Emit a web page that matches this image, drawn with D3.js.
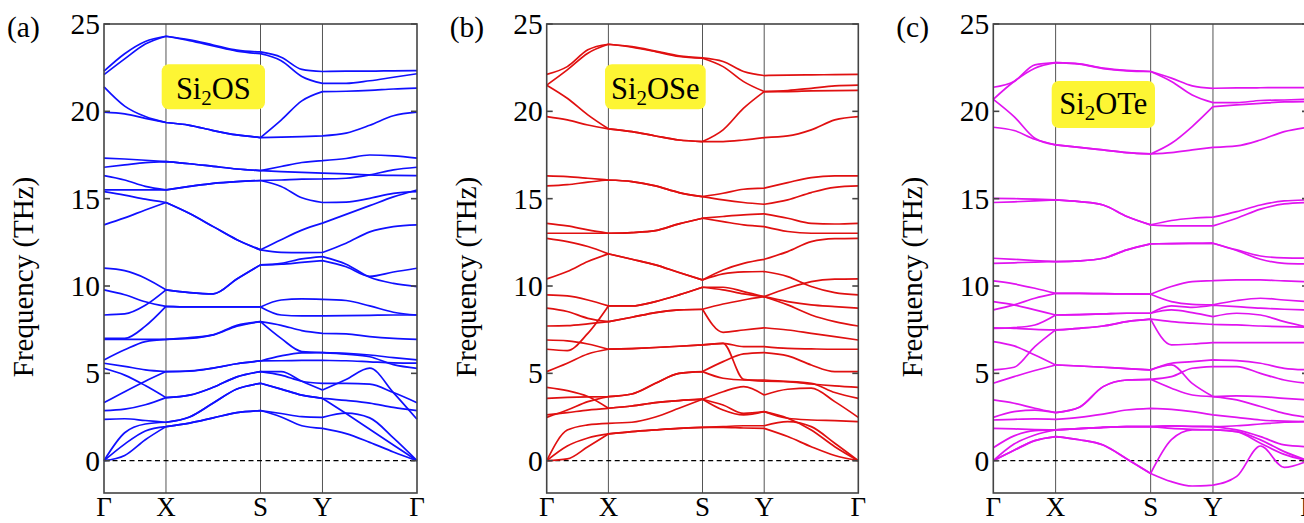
<!DOCTYPE html>
<html>
<head>
<meta charset="utf-8">
<script src="https://cdn.jsdelivr.net/npm/d3@7"></script>
<style>
  body { margin: 0; background: #fff; }
</style>
</head>
<body>
<svg id="chart" width="1304" height="523" font-family="'Liberation Serif', 'Times New Roman', 'DejaVu Serif', serif"></svg>
<script>
// High-symmetry path Γ–X–S–Y–Γ
const kLabels = ["Γ", "X", "S", "Y", "Γ"];
// cumulative path length (normalised) at Γ, X, S, Y, Γ
const kNodes = [0, 0.198, 0.5, 0.698, 1];
// sampling points of every band, in segment units (0=Γ, 1=X, 2=S, 3=Y, 4=Γ)
const kGrid = [0, 1/3, 2/3, 1, 1.25, 1.5, 1.75, 2, 2 + 1/3, 2 + 2/3, 3, 3.25, 3.5, 3.75, 4];
const freqTicks = [0, 5, 10, 15, 20, 25];
const freqDomain = [-1.85, 25];

// Phonon branches of Si2OS (THz) sampled on kGrid
const bandsSi2OS = [
  [0, 0.3, 1.2, 1.95, 2.15, 2.45, 2.75, 2.87, 2.5, 2.0, 1.85, 1.55, 1.05, 0.5, 0],
  [0, 0.95, 1.7, 1.95, 2.15, 2.45, 2.75, 2.87, 2.7, 2.52, 2.48, 2.72, 2.45, 1.3, 0],
  [0, 1.6, 2.1, 2.2, 2.5, 3.3, 4.1, 4.43, 4.1, 3.75, 3.57, 2.7, 1.8, 0.9, 0],
  [2.37, 2.4, 2.3, 2.2, 2.5, 3.3, 4.1, 4.43, 4.1, 3.75, 3.57, 3.45, 3.3, 3.05, 2.87],
  [2.87, 2.95, 3.2, 3.61, 3.75, 4.2, 4.8, 5.1, 4.9, 4.55, 4.43, 4.43, 4.38, 3.9, 3.32],
  [5.29, 4.9, 4.3, 3.61, 3.75, 4.2, 4.8, 5.1, 5.1, 4.55, 4.05, 4.65, 5.3, 3.9, 2.37],
  [3.32, 3.95, 4.55, 5.1, 5.14, 5.3, 5.55, 5.71, 6.0, 6.17, 6.19, 6.15, 6.05, 5.9, 5.77],
  [5.58, 5.4, 5.2, 5.1, 5.12, 5.3, 5.55, 5.71, 5.72, 5.74, 5.75, 5.72, 5.66, 5.6, 5.58],
  [5.77, 6.35, 6.82, 6.95, 7.05, 7.2, 7.7, 7.96, 7.0, 6.25, 6.19, 6.1, 5.95, 5.5, 5.29],
  [6.95, 6.95, 6.95, 6.95, 7.0, 7.2, 7.75, 7.96, 7.75, 7.45, 7.29, 7.26, 7.1, 7.0, 6.95],
  [7.0, 7.0, 7.7, 8.83, 8.8, 8.8, 8.8, 8.8, 8.34, 8.29, 8.29, 8.3, 8.32, 8.34, 8.34],
  [9.78, 9.5, 9.1, 8.83, 8.8, 8.8, 8.8, 8.8, 9.2, 9.26, 9.24, 9.17, 8.86, 8.5, 8.34],
  [8.34, 8.4, 8.9, 9.78, 9.62, 9.55, 10.4, 11.21, 11.25, 11.35, 11.45, 11.1, 10.55, 10.8, 11.02],
  [11.02, 10.88, 10.45, 9.78, 9.62, 9.55, 10.4, 11.21, 11.3, 11.55, 11.68, 11.25, 10.5, 10.15, 9.97],
  [13.5, 13.9, 14.35, 14.78, 14.15, 13.4, 12.65, 12.07, 11.93, 11.91, 11.92, 12.45, 13.1, 13.4, 13.5],
  [15.4, 15.2, 14.97, 14.78, 14.15, 13.4, 12.65, 12.07, 12.65, 13.2, 13.6, 14.1, 14.6, 15.1, 15.5],
  [15.5, 15.5, 15.5, 15.5, 15.7, 15.88, 15.98, 16.04, 15.7, 15.05, 14.78, 14.8, 15.02, 15.3, 15.4],
  [16.32, 16.07, 15.7, 15.5, 15.7, 15.88, 15.98, 16.04, 16.07, 16.12, 16.13, 16.17, 16.36, 16.65, 16.8],
  [16.8, 16.93, 17.06, 17.12, 17.0, 16.85, 16.7, 16.61, 16.55, 16.5, 16.46, 16.42, 16.36, 16.33, 16.32],
  [17.32, 17.27, 17.2, 17.12, 17.0, 16.85, 16.7, 16.61, 16.84, 17.07, 17.18, 17.3, 17.5, 17.45, 17.32],
  [19.95, 19.85, 19.6, 19.36, 19.2, 18.9, 18.65, 18.5, 18.52, 18.55, 18.6, 18.75, 19.2, 19.75, 19.95],
  [21.4, 20.3, 19.7, 19.36, 19.2, 18.9, 18.65, 18.5, 19.5, 20.6, 21.13, 21.15, 21.2, 21.28, 21.33],
  [22.1, 23.0, 23.85, 24.3, 24.05, 23.75, 23.45, 23.3, 22.9, 22.0, 21.6, 21.6, 21.75, 21.95, 22.15],
  [22.3, 23.3, 24.0, 24.3, 24.1, 23.8, 23.5, 23.4, 23.1, 22.4, 22.28, 22.3, 22.3, 22.32, 22.33]
];

// Phonon branches of Si2OSe (THz)
const bandsSi2OSe = [
  [0, 0.1, 0.8, 1.53, 1.66, 1.76, 1.85, 1.91, 1.91, 1.87, 1.85, 1.38, 0.8, 0.3, 0],
  [0, 0.84, 1.3, 1.53, 1.66, 1.76, 1.85, 1.91, 1.95, 2.0, 2.0, 2.24, 1.95, 1.0, 0],
  [0, 1.75, 2.05, 2.14, 2.2, 2.5, 3.0, 3.52, 2.9, 2.62, 2.81, 2.43, 1.76, 0.8, 0],
  [2.48, 2.9, 3.38, 3.67, 3.82, 4.43, 5.0, 5.1, 5.67, 6.11, 6.19, 6.0, 5.48, 5.1, 5.1],
  [3.57, 3.62, 3.65, 3.67, 3.82, 4.43, 5.0, 5.1, 4.72, 4.62, 4.62, 4.53, 4.39, 4.28, 4.2],
  [4.2, 4.01, 3.67, 3.0, 3.13, 3.32, 3.44, 3.52, 3.95, 4.24, 3.76, 4.09, 4.15, 3.38, 2.48],
  [2.62, 2.75, 2.9, 3.0, 3.13, 3.32, 3.44, 3.52, 3.19, 2.71, 2.81, 2.43, 2.33, 2.29, 2.24],
  [5.1, 5.58, 6.11, 6.38, 6.42, 6.48, 6.55, 6.63, 6.72, 6.53, 6.53, 6.43, 6.4, 6.38, 6.38],
  [6.91, 6.86, 6.68, 6.38, 6.42, 6.48, 6.55, 6.63, 6.72, 4.66, 4.56, 4.53, 4.43, 3.9, 3.57],
  [6.38, 6.3, 7.29, 8.86, 8.86, 9.11, 9.49, 9.93, 9.78, 9.55, 9.39, 9.87, 10.25, 10.39, 10.41],
  [7.71, 7.73, 7.83, 7.96, 8.21, 8.48, 8.63, 8.67, 7.35, 7.48, 7.61, 7.48, 7.29, 7.1, 6.91],
  [8.73, 8.54, 8.15, 7.96, 8.21, 8.48, 8.63, 8.67, 8.97, 9.2, 9.39, 8.92, 8.34, 7.96, 7.71],
  [9.49, 9.43, 9.2, 8.86, 8.86, 9.11, 9.49, 9.93, 9.93, 9.68, 9.39, 9.11, 8.92, 8.82, 8.73],
  [10.41, 10.83, 11.4, 11.84, 11.53, 11.21, 10.77, 10.35, 10.69, 10.81, 10.83, 10.54, 9.97, 9.62, 9.49],
  [12.73, 12.54, 12.26, 11.84, 11.53, 11.21, 10.77, 10.35, 10.92, 11.3, 11.53, 11.97, 12.54, 12.71, 12.73],
  [13.02, 13.02, 13.02, 13.02, 13.06, 13.17, 13.56, 13.88, 13.69, 13.5, 13.4, 13.12, 13.02, 13.02, 13.02],
  [13.59, 13.44, 13.21, 13.02, 13.06, 13.17, 13.56, 13.88, 13.98, 14.07, 14.13, 13.88, 13.59, 13.55, 13.59],
  [15.73, 15.8, 15.95, 16.07, 15.98, 15.73, 15.35, 15.12, 14.93, 14.78, 14.68, 14.93, 15.35, 15.65, 15.73],
  [16.3, 16.26, 16.17, 16.07, 15.98, 15.73, 15.35, 15.12, 15.31, 15.54, 15.6, 15.92, 16.21, 16.3, 16.3],
  [19.7, 19.51, 19.22, 19.0, 18.84, 18.59, 18.36, 18.27, 18.27, 18.36, 18.5, 18.59, 18.94, 19.51, 19.7],
  [21.5, 20.75, 19.8, 19.0, 18.84, 18.59, 18.36, 18.27, 18.94, 20.18, 21.13, 21.13, 21.17, 21.19, 21.2],
  [21.5, 22.37, 23.33, 23.84, 23.67, 23.42, 23.14, 23.04, 22.56, 21.7, 21.13, 21.19, 21.32, 21.46, 21.5],
  [22.12, 22.56, 23.52, 23.84, 23.7, 23.45, 23.18, 23.06, 22.85, 22.28, 22.05, 22.07, 22.09, 22.1, 22.12]
];

// Phonon branches of Si2OTe (THz)
const bandsSi2OTe = [
  [0, 0.6, 1.15, 1.38, 1.2, 0.9, 0.1, -0.73, -1.2, -1.45, -1.4, -0.9, 0.84, -0.38, 0],
  [0, 0.6, 1.15, 1.38, 1.2, 0.9, 0.1, -0.73, 1.2, 1.76, 1.78, 1.66, 1.0, 0.36, 0],
  [0, 0.95, 1.47, 1.76, 1.83, 1.91, 1.95, 1.95, 1.99, 1.95, 1.95, 1.76, 1.38, 0.9, 0.8],
  [0.74, 1.42, 1.72, 1.76, 1.83, 1.91, 1.95, 1.95, 1.85, 1.8, 1.76, 1.66, 1.19, 0.52, 0],
  [1.85, 1.82, 1.78, 1.76, 1.83, 1.91, 1.95, 1.95, 1.99, 1.97, 1.95, 2.0, 2.1, 2.2, 2.24],
  [2.33, 2.37, 2.39, 2.37, 2.48, 2.67, 2.9, 3.0, 2.94, 2.81, 2.62, 2.48, 2.33, 2.26, 2.24],
  [2.48, 2.81, 2.9, 2.75, 3.06, 4.24, 4.62, 4.66, 4.81, 5.29, 5.39, 5.39, 5.0, 4.62, 4.43],
  [3.48, 3.29, 3.0, 2.75, 3.06, 4.24, 4.62, 4.66, 4.15, 3.76, 3.67, 3.48, 3.1, 2.71, 2.48],
  [4.43, 4.81, 5.16, 5.48, 5.42, 5.35, 5.27, 5.2, 5.48, 4.43, 3.67, 3.71, 3.67, 3.57, 3.48],
  [6.82, 6.57, 6.05, 5.48, 5.42, 5.35, 5.27, 5.2, 5.58, 5.67, 5.77, 5.73, 5.58, 5.29, 5.2],
  [5.2, 5.35, 6.53, 7.49, 7.58, 7.71, 7.96, 8.1, 6.63, 6.68, 6.76, 6.76, 6.76, 6.76, 6.76],
  [7.61, 7.58, 7.52, 7.49, 7.58, 7.71, 7.96, 8.1, 7.96, 7.87, 7.8, 7.77, 7.71, 7.67, 7.64],
  [7.58, 7.62, 7.77, 8.34, 8.36, 8.4, 8.44, 8.44, 8.86, 8.78, 8.9, 8.82, 8.73, 8.67, 8.63],
  [9.11, 8.92, 8.63, 8.34, 8.36, 8.4, 8.44, 8.44, 8.63, 8.48, 8.25, 8.44, 8.34, 7.96, 7.64],
  [8.63, 8.92, 9.3, 9.58, 9.58, 9.56, 9.55, 9.53, 9.11, 8.95, 8.92, 9.17, 9.3, 9.2, 9.11],
  [10.29, 10.12, 9.87, 9.58, 9.58, 9.56, 9.55, 9.53, 9.97, 10.25, 10.31, 10.35, 10.35, 10.29, 10.25],
  [11.3, 11.33, 11.37, 11.4, 11.44, 11.59, 12.07, 12.41, 12.43, 12.44, 12.45, 12.03, 11.53, 11.3, 11.26],
  [11.59, 11.53, 11.46, 11.4, 11.44, 11.59, 12.07, 12.41, 12.43, 12.44, 12.45, 12.07, 11.72, 11.61, 11.59],
  [14.78, 14.82, 14.87, 14.93, 14.83, 14.64, 13.98, 13.5, 13.44, 13.44, 13.44, 13.88, 14.4, 14.7, 14.78],
  [15.02, 15.0, 14.97, 14.93, 14.83, 14.64, 13.98, 13.5, 13.75, 13.88, 13.94, 14.26, 14.64, 14.87, 14.93],
  [19.09, 18.9, 18.4, 18.08, 17.94, 17.79, 17.64, 17.56, 17.64, 17.79, 17.94, 18.02, 18.36, 18.84, 19.09],
  [20.69, 19.7, 18.46, 18.08, 17.94, 17.79, 17.64, 17.56, 18.17, 19.13, 20.27, 20.37, 20.46, 20.54, 20.56],
  [20.69, 21.71, 22.47, 22.79, 22.7, 22.45, 22.32, 22.28, 21.71, 20.94, 20.5, 20.5, 20.62, 20.65, 20.69],
  [21.38, 21.71, 22.66, 22.79, 22.72, 22.47, 22.34, 22.28, 21.9, 21.46, 21.32, 21.34, 21.35, 21.36, 21.36]
];

const panelTags = ["(a)", "(b)", "(c)"];
const compoundParts = [["Si", "2", "OS"], ["Si", "2", "OSe"], ["Si", "2", "OTe"]];
const bandSets = [bandsSi2OS, bandsSi2OSe, bandsSi2OTe];
const bandColors = ["#1010ff", "#e01010", "#e014f0"];

// page layout
const layout = {
  top: 24, bottom: 493,
  panels: [
    { left: 104, right: 417, box: [161.7, 64.3, 103.3, 45, 98.5] },
    { left: 546.7, right: 858.3, box: [605, 64.3, 100.7, 45, 98.5] },
    { left: 993.3, right: 1308, box: [1051.7, 81, 103.3, 47, 113.5] }
  ]
};

const svg = d3.select("#chart");
const y = d3.scaleLinear().domain(freqDomain).range([layout.bottom, layout.top]);
const segToPath = d3.scaleLinear().domain([0, 1, 2, 3, 4]).range(kNodes);
const segments = [[0, 3], [3, 7], [7, 10], [10, 14]];

layout.panels.forEach((p, i) => {
  const g = svg.append("g");
  const x = d3.scaleLinear().domain([0, 1]).range([p.left, p.right]);
  const kx = s => x(segToPath(s));

  // vertical lines at X, S, Y
  g.selectAll("line.hs").data(kNodes.slice(1, 4)).join("line")
    .attr("x1", d => x(d)).attr("x2", d => x(d))
    .attr("y1", layout.top).attr("y2", layout.bottom)
    .attr("stroke", "#555").attr("stroke-width", 1);

  // zero-frequency reference
  g.append("line")
    .attr("x1", p.left).attr("x2", p.right)
    .attr("y1", y(0)).attr("y2", y(0))
    .attr("stroke", "#000").attr("stroke-width", 1.3)
    .attr("stroke-dasharray", "5,3.5");

  // bands, drawn piecewise between high-symmetry points
  const line = d3.line().x(d => kx(d[0])).y(d => y(d[1])).curve(d3.curveMonotoneX);
  bandSets[i].forEach(band => {
    const pts = band.map((f, j) => [kGrid[j], f]);
    const d = segments.map(([a, b]) => line(pts.slice(a, b + 1))).join("");
    g.append("path").attr("d", d)
      .attr("fill", "none").attr("stroke", bandColors[i])
      .attr("stroke-width", 1.7).attr("stroke-linejoin", "round");
  });

  // frame
  g.append("rect")
    .attr("x", p.left).attr("y", layout.top)
    .attr("width", p.right - p.left).attr("height", layout.bottom - layout.top)
    .attr("fill", "none").attr("stroke", "#444").attr("stroke-width", 1.6);

  // inward ticks on both sides
  freqTicks.forEach(t => {
    [[p.left, p.left + 6], [p.right - 6, p.right]].forEach(([a, b]) => {
      g.append("line").attr("x1", a).attr("x2", b)
        .attr("y1", y(t)).attr("y2", y(t))
        .attr("stroke", "#444").attr("stroke-width", 1.6);
    });
  });

  // tick labels
  g.selectAll("text.tick").data(freqTicks).join("text")
    .attr("x", p.left - 4).attr("y", d => y(d) + 10)
    .attr("text-anchor", "end").attr("font-size", 29.5)
    .text(d => d);

  // k-point labels
  g.selectAll("text.k").data(kNodes).join("text")
    .attr("x", d => x(d)).attr("y", 516)
    .attr("text-anchor", "middle").attr("font-size", 27)
    .text((d, j) => kLabels[j]);

  // axis title
  g.append("text")
    .attr("transform", `translate(${p.left - 71},277) rotate(-90)`)
    .attr("text-anchor", "middle").attr("font-size", 29)
    .text("Frequency (THz)");

  // panel tag
  g.append("text").attr("x", p.left - 97).attr("y", 37)
    .attr("font-size", 29.5).text(panelTags[i]);

  // compound label
  const [bx, by, bw, bh, base] = p.box;
  g.append("rect").attr("x", bx).attr("y", by).attr("width", bw).attr("height", bh)
    .attr("rx", 7).attr("fill", "#fdf534");
  const t = g.append("text").attr("x", bx + bw / 2).attr("y", base)
    .attr("text-anchor", "middle").attr("font-size", 30.5);
  const parts = compoundParts[i];
  t.append("tspan").text(parts[0]);
  t.append("tspan").attr("font-size", 21).attr("dy", 6).text(parts[1]);
  t.append("tspan").attr("dy", -6).text(parts[2]);
});
</script>
</body>
</html>
